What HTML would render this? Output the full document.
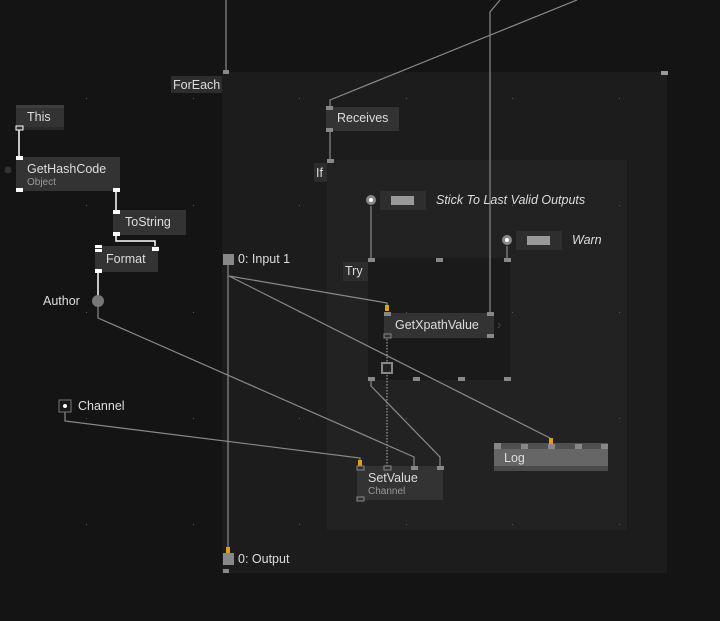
<!DOCTYPE html>
<html><head><meta charset="utf-8"><style>
html,body{margin:0;padding:0;background:#141414;}
svg{display:block;}
text{font-family:"Liberation Sans","DejaVu Sans",sans-serif;fill:#ddd;font-size:12.5px;}
.s{font-size:10px;fill:#999;}
.i{font-style:italic;}
</style></head><body>
<svg width="720" height="621" viewBox="0 0 720 621" xmlns="http://www.w3.org/2000/svg">
<rect width="720" height="621" fill="#141414"/>
<rect x="222" y="72" width="445" height="501" fill="#1c1c1c"/>
<rect x="327" y="160" width="300" height="370" fill="#222"/>
<rect x="368" y="258" width="142" height="122" fill="#1a1a1a"/>
<g fill="#555">
<rect x="86" y="98" width="1" height="1"/><rect x="193" y="98" width="1" height="1"/><rect x="299" y="98" width="1" height="1"/><rect x="406" y="98" width="1" height="1"/><rect x="512" y="98" width="1" height="1"/><rect x="619" y="98" width="1" height="1"/>
<rect x="86" y="205" width="1" height="1"/><rect x="193" y="205" width="1" height="1"/><rect x="299" y="205" width="1" height="1"/><rect x="406" y="205" width="1" height="1"/><rect x="512" y="205" width="1" height="1"/><rect x="619" y="205" width="1" height="1"/>
<rect x="86" y="312" width="1" height="1"/><rect x="193" y="312" width="1" height="1"/><rect x="299" y="312" width="1" height="1"/><rect x="406" y="312" width="1" height="1"/><rect x="512" y="312" width="1" height="1"/><rect x="619" y="312" width="1" height="1"/>
<rect x="86" y="418" width="1" height="1"/><rect x="193" y="418" width="1" height="1"/><rect x="299" y="418" width="1" height="1"/><rect x="406" y="418" width="1" height="1"/><rect x="512" y="418" width="1" height="1"/><rect x="619" y="418" width="1" height="1"/>
<rect x="86" y="524" width="1" height="1"/><rect x="193" y="524" width="1" height="1"/><rect x="299" y="524" width="1" height="1"/><rect x="406" y="524" width="1" height="1"/><rect x="512" y="524" width="1" height="1"/><rect x="619" y="524" width="1" height="1"/>
</g>
<g stroke="#8a8a8a" stroke-width="1.2" fill="none">
<line x1="226" y1="0" x2="226" y2="71"/>
<polyline points="577,0 330,100 330,107"/>
<polyline points="500,0 490,12 490,313"/>
<line x1="330" y1="131" x2="330" y2="162"/>
<line x1="371" y1="206" x2="371" y2="260"/>
<line x1="507" y1="246" x2="507" y2="260"/>
<line x1="228" y1="265" x2="228" y2="550"/>
<polyline points="229,276 387,303 387,307"/>
<polyline points="229,276 550,438"/>
<polyline points="98,306 98,318 414,457 414,466"/>
<polyline points="371,380 371,386 440,457 440,466"/>
<polyline points="65,412 65,421 360,458 360,462"/>
</g>
<g stroke="#fff" stroke-width="1.5" fill="none">
<line x1="19" y1="130" x2="19" y2="190"/>
<line x1="116" y1="191" x2="116" y2="212"/>
<polyline points="116,235 116,241 155,241 155,248"/>
<line x1="98" y1="272" x2="98" y2="296"/>
</g>
<line x1="387" y1="339" x2="387" y2="466" stroke="#999" stroke-width="1.2" stroke-dasharray="1.5,1.5"/>
<line x1="360" y1="470" x2="360" y2="497" stroke="#999" stroke-width="1"/>
<rect x="171" y="76" width="51" height="17" fill="#2d2d2d"/>
<text x="173" y="89">ForEach</text>
<rect x="223" y="70" width="6" height="4" fill="#888"/>
<rect x="661" y="71" width="7" height="4" fill="#999"/>
<rect x="16" y="105" width="48" height="25" fill="#333"/>
<rect x="16" y="105" width="48" height="3" fill="#3d3d3d"/>
<rect x="16" y="127" width="48" height="3" fill="#2a2a2a"/>
<text x="27" y="121">This</text>
<rect x="16" y="126" width="7" height="4" fill="#333" stroke="#fff" stroke-width="1"/>
<circle cx="8" cy="170" r="3.5" fill="#333"/>
<rect x="16" y="157" width="104" height="34" fill="#333"/>
<text x="27" y="173">GetHashCode</text>
<text x="27" y="185" class="s">Object</text>
<rect x="16" y="156" width="7" height="4" fill="#fff"/>
<rect x="16" y="188" width="7" height="4" fill="#fff"/>
<rect x="113" y="188" width="7" height="4" fill="#fff"/>
<rect x="113" y="210" width="73" height="25" fill="#333"/>
<text x="125" y="226">ToString</text>
<rect x="113" y="210" width="7" height="4" fill="#fff"/>
<rect x="113" y="232" width="7" height="4" fill="#fff"/>
<rect x="95" y="246" width="63" height="26" fill="#333"/>
<text x="106" y="263">Format</text>
<rect x="95" y="245" width="7" height="3" fill="#fff"/>
<rect x="95" y="249" width="7" height="3" fill="#fff"/>
<rect x="152" y="247" width="7" height="4" fill="#fff"/>
<rect x="95" y="269" width="7" height="4" fill="#fff"/>
<text x="43" y="305">Author</text>
<circle cx="98" cy="301" r="6" fill="#777"/>
<rect x="59" y="400" width="12" height="12" fill="#1a1a1a" stroke="#777" stroke-width="1"/>
<circle cx="65" cy="406" r="2" fill="#fff"/>
<text x="78" y="410">Channel</text>
<rect x="326" y="107" width="73" height="24" fill="#333"/>
<text x="337" y="122">Receives</text>
<rect x="326" y="106" width="7" height="4" fill="#888"/>
<rect x="326" y="128" width="7" height="4" fill="#888"/>
<rect x="314" y="163" width="13" height="19" fill="#2d2d2d"/>
<text x="316" y="177">If</text>
<rect x="327" y="159" width="7" height="4" fill="#888"/>
<circle cx="371" cy="200" r="5" fill="#888"/>
<circle cx="371" cy="200" r="2" fill="#fff"/>
<rect x="380" y="191" width="46" height="19" fill="#2e2e2e"/>
<rect x="391" y="196" width="23" height="9" fill="#999"/>
<text x="436" y="204" class="i">Stick To Last Valid Outputs</text>
<circle cx="507" cy="240" r="5" fill="#888"/>
<circle cx="507" cy="240" r="2" fill="#fff"/>
<rect x="516" y="231" width="46" height="19" fill="#2e2e2e"/>
<rect x="527" y="236" width="23" height="9" fill="#999"/>
<text x="572" y="244" class="i">Warn</text>
<rect x="343" y="262" width="25" height="19" fill="#2d2d2d"/>
<text x="345" y="275">Try</text>
<g fill="#888">
<rect x="368" y="258" width="7" height="4"/><rect x="436" y="258" width="7" height="4"/><rect x="504" y="258" width="7" height="4"/>
<rect x="368" y="377" width="7" height="4"/><rect x="413" y="377" width="7" height="4"/><rect x="458" y="377" width="7" height="4"/><rect x="504" y="377" width="7" height="4"/>
</g>
<rect x="384" y="313" width="110" height="25" fill="#333"/>
<text x="395" y="329">GetXpathValue</text>
<text x="497" y="329" style="fill:#444">›</text>
<rect x="385" y="305" width="4" height="6" fill="#e0a010"/>
<rect x="384" y="312" width="7" height="4" fill="#888"/>
<rect x="487" y="312" width="7" height="4" fill="#888"/>
<rect x="384" y="334" width="7" height="4" fill="#333" stroke="#888" stroke-width="1"/>
<rect x="487" y="334" width="7" height="4" fill="#888"/>
<rect x="382" y="363" width="10" height="10" fill="#222" stroke="#888" stroke-width="2"/>
<rect x="223" y="254" width="11" height="11" fill="#888"/>
<text x="238" y="263">0:  Input 1</text>
<rect x="226" y="547" width="4" height="6" fill="#e0a010"/>
<rect x="223" y="553" width="11" height="12" fill="#888"/>
<rect x="223" y="569" width="6" height="4" fill="#888"/>
<text x="238" y="563">0:  Output</text>
<rect x="357" y="466" width="86" height="34" fill="#333"/>
<text x="368" y="482">SetValue</text>
<text x="368" y="494" class="s">Channel</text>
<rect x="358" y="460" width="4" height="6" fill="#e0a010"/>
<rect x="357" y="466" width="7" height="4" fill="#333" stroke="#888" stroke-width="1"/>
<rect x="384" y="466" width="7" height="4" fill="#333" stroke="#888" stroke-width="1"/>
<rect x="411" y="466" width="7" height="4" fill="#888"/>
<rect x="437" y="466" width="7" height="4" fill="#888"/>
<rect x="357" y="497" width="7" height="4" fill="#333" stroke="#888" stroke-width="1"/>
<rect x="494" y="443" width="114" height="28" fill="#666"/>
<rect x="494" y="443" width="114" height="6" fill="#505050"/>
<rect x="494" y="466" width="114" height="5" fill="#4a4a4a"/>
<text x="504" y="462">Log</text>
<g fill="#888">
<rect x="494" y="443" width="7" height="6"/><rect x="521" y="444" width="7" height="5"/><rect x="548" y="444" width="7" height="5"/><rect x="575" y="444" width="7" height="5"/><rect x="601" y="444" width="7" height="5"/>
</g>
<rect x="549" y="438" width="4" height="6" fill="#e0a010"/>
</svg>
</body></html>
